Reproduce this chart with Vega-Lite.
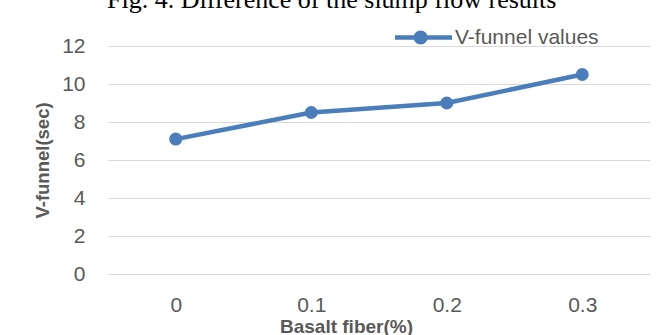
{
  "$schema": "https://vega.github.io/schema/vega-lite/v6.json",
  "width": 542,
  "height": 228,
  "autosize": {"type": "none"},
  "padding": {"left": 108, "top": 46, "right": 15, "bottom": 61},
  "background": "white",
  "title": {
    "text": "Fig. 4. Difference of the slump flow results",
    "anchor": "start",
    "frame": "group",
    "font": "Liberation Serif",
    "fontSize": 26,
    "fontWeight": "normal",
    "color": "black",
    "offset": -4,
    "dx": -1
  },
  "data": {
    "values": [
      {"fiber": "0", "vfunnel": 7.1, "series": "V-funnel values"},
      {"fiber": "0.1", "vfunnel": 8.5, "series": "V-funnel values"},
      {"fiber": "0.2", "vfunnel": 9.0, "series": "V-funnel values"},
      {"fiber": "0.3", "vfunnel": 10.5, "series": "V-funnel values"}
    ]
  },
  "mark": {"type": "line", "strokeWidth": 4.5, "point": {"filled": true, "size": 170}},
  "encoding": {
    "x": {
      "field": "fiber",
      "type": "ordinal",
      "sort": null,
      "scale": {"type": "point", "padding": 0.5},
      "axis": {
        "title": "Basalt fiber(%)",
        "labelAngle": 0,
        "grid": false,
        "ticks": false,
        "tickSize": 0,
        "domain": true,
        "domainColor": "#d9d9d9",
        "domainWidth": 1,
        "labelPadding": 31,
        "labelBaseline": "middle",
        "labelFont": "Liberation Sans",
        "labelFontSize": 21,
        "labelColor": "#595959",
        "titleFont": "Liberation Sans",
        "titleFontSize": 19,
        "titleFontWeight": "bold",
        "titleColor": "#595959",
        "titleX": 238,
        "titleY": 52,
        "titleBaseline": "middle",
        "titleAlign": "center"
      }
    },
    "y": {
      "field": "vfunnel",
      "type": "quantitative",
      "scale": {"domain": [0, 12], "nice": false},
      "axis": {
        "title": "V-funnel(sec)",
        "values": [0, 2, 4, 6, 8, 10, 12],
        "grid": true,
        "gridColor": "#d9d9d9",
        "gridWidth": 1,
        "domain": false,
        "ticks": false,
        "tickSize": 0,
        "labelPadding": 23,
        "labelFont": "Liberation Sans",
        "labelFontSize": 21,
        "labelColor": "#595959",
        "titleFont": "Liberation Sans",
        "titleFontSize": 18.5,
        "titleFontWeight": "bold",
        "titleColor": "#595959",
        "titleX": -66,
        "titleY": 114,
        "titleAngle": 270,
        "titleBaseline": "middle",
        "titleAlign": "center"
      }
    },
    "color": {
      "field": "series",
      "type": "nominal",
      "scale": {"range": ["#4a7ebb"]},
      "legend": {
        "orient": "none",
        "legendX": 287,
        "legendY": -37,
        "title": null,
        "symbolType": "M-1,-0.08L1,-0.08L1,0.08L-1,0.08Z M0.145,0 A0.245,0.245 0 1,1 -0.345,0 A0.245,0.245 0 1,1 0.145,0 Z",
        "symbolSize": 3249,
        "labelFont": "Liberation Sans",
        "labelFontSize": 21,
        "labelColor": "#595959",
        "labelOffset": 3,
        "labelLimit": 300,
        "padding": 0,
        "encode": {
          "symbols": {
            "update": {
              "fill": {"value": "#4a7ebb"},
              "stroke": {"value": "transparent"},
              "strokeWidth": {"value": 0},
              "opacity": {"value": 1}
            }
          }
        }
      }
    }
  },
  "config": {"view": {"stroke": null}}
}
